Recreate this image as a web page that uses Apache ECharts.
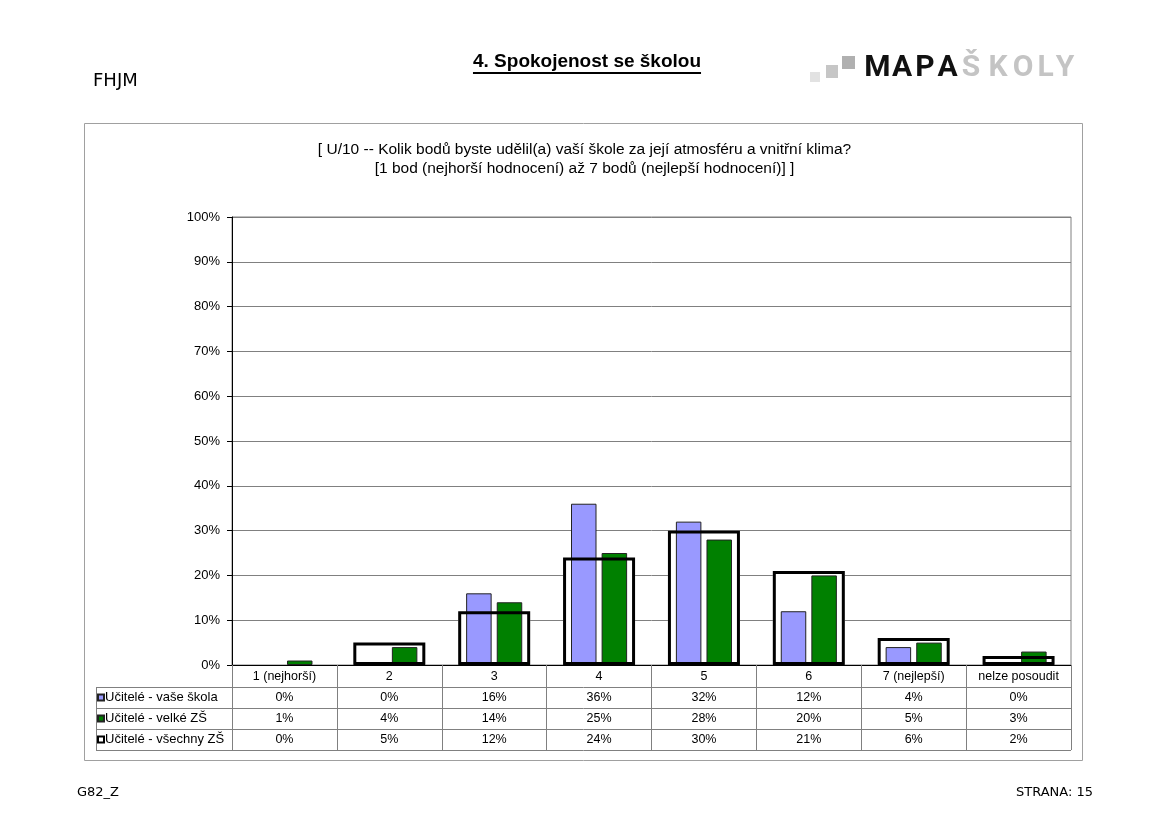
<!DOCTYPE html>
<html>
<head>
<meta charset="utf-8">
<script src="https://cdn.jsdelivr.net/npm/echarts@6/dist/echarts.min.js"></script>
<style>
html,body{margin:0;padding:0;background:#fff;}
#chart{width:1169px;height:827px;}
</style>
</head>
<body>
<div id="chart"></div>
<script>
// ---- data ----
const categories = ['1 (nejhorší)', '2', '3', '4', '5', '6', '7 (nejlepší)', 'nelze posoudit'];
const vaseSkola = [0, 0, 16, 36, 32, 12, 4, 0];
const velkeZS = [1, 4, 14, 25, 28, 20, 5, 3];
const vsechnyZS = [0, 5, 12, 24, 30, 21, 6, 2];
const seriesNames = ['Učitelé - vaše škola', 'Učitelé - velké ZŠ', 'Učitelé - všechny ZŠ'];
const chartTitle = '[ U/10 -- Kolik bodů byste udělil(a) vaší škole za její atmosféru a vnitřní klima?\n[1 bod (nejhorší hodnocení) až 7 bodů (nejlepší hodnocení)] ]';
const pageTitle = '4. Spokojenost se školou';
const pageCode = 'FHJM';
const footerLeft = 'G82_Z';
const footerRight = 'STRANA: 15';
const logoA = 'MAPA';
const logoB = 'ŠKOLY';

// ---- layout ----
const W = 1169, H = 827;
const GL = 232, GR = 1071, GT = 217, GB = 665;
const rowH = [22, 21, 21, 21];
const tableLeft = 96;
const FONT = '"Liberation Sans", Arial, sans-serif';

const pct = v => v + '%';
const nz = arr => arr.map(v => (v === 0 ? null : v));

const chart = echarts.init(document.getElementById('chart'), null, {renderer: 'canvas'});

// table row boundaries
const rowY = [GB];
rowH.forEach((h, i) => rowY.push(rowY[i] + h));
const rowCenters = rowH.map((h, i) => rowY[i] + h / 2);

// measure page title width for underline
const ctx = document.createElement('canvas').getContext('2d');
ctx.font = 'bold 19px ' + FONT;
const ptW = ctx.measureText(pageTitle).width;
const ptCx = 587;

const graphics = [];
// chart frame
graphics.push({type: 'rect', shape: {x: 84.5, y: 123.5, width: 998, height: 637}, style: {fill: 'none', stroke: '#a0a0a0', lineWidth: 1}, z: -10});
// table horizontal lines (rows 2..4 extend into legend column)
for (let i = 1; i < rowY.length; i++) {
  graphics.push({type: 'line', shape: {x1: tableLeft, y1: rowY[i] + 0.5, x2: GR, y2: rowY[i] + 0.5}, style: {stroke: '#808080', lineWidth: 1}});
}
graphics.push({type: 'line', shape: {x1: tableLeft + 0.5, y1: rowY[1], x2: tableLeft + 0.5, y2: rowY[rowY.length - 1] + 0.5}, style: {stroke: '#808080', lineWidth: 1}});
// page texts
graphics.push({type: 'text', left: 93, top: 72, style: {text: pageCode, font: '18px "DejaVu Sans", sans-serif', fill: '#000'}});
graphics.push({type: 'text', x: ptCx, y: 62, style: {text: pageTitle, font: 'bold 19px ' + FONT, fill: '#000', align: 'center', verticalAlign: 'middle'}});
graphics.push({type: 'line', shape: {x1: ptCx - ptW / 2, y1: 73, x2: ptCx + ptW / 2, y2: 73}, style: {stroke: '#000', lineWidth: 2}});
graphics.push({type: 'text', left: 77, top: 786, style: {text: footerLeft, font: '13px "DejaVu Sans", sans-serif', fill: '#000'}});
graphics.push({type: 'text', right: W - 1093, top: 786, style: {text: footerRight, font: '13px "DejaVu Sans", sans-serif', fill: '#000'}});
// logo squares
graphics.push({type: 'rect', shape: {x: 810, y: 72, width: 10, height: 10}, style: {fill: '#e2e2e2'}});
graphics.push({type: 'rect', shape: {x: 826, y: 65, width: 12, height: 13}, style: {fill: '#c6c6c6'}});
graphics.push({type: 'rect', shape: {x: 842, y: 56, width: 13, height: 13}, style: {fill: '#b0b0b0'}});
// logo letters
const logoCenters = [877.5, 902, 925, 947.5, 971, 998, 1023, 1045.5, 1065];
const logoText = (logoA + logoB).split('');
logoText.forEach((ch, i) => {
  graphics.push({type: 'text', x: logoCenters[i], y: 68, style: {
    text: ch, font: 'bold 30px Roboto, "DejaVu Sans", sans-serif',
    fill: i < logoA.length ? '#111' : '#c4c4c4', align: 'center', verticalAlign: 'middle'}});
});

const tableLabel = {fontSize: 12.5, color: '#000', fontFamily: FONT, margin: 5, interval: 0};
const rowAxis = (arr, off) => ({
  type: 'category', gridIndex: 0, position: 'bottom', offset: off,
  data: arr.map(pct), axisLine: {show: false}, axisTick: {show: false},
  axisLabel: tableLabel, splitLine: {show: false}
});

const option = {
  backgroundColor: '#fff',
  animation: false,
  title: {
    text: chartTitle, left: 'center', top: 140, padding: 0,
    textStyle: {fontSize: 15.5, fontWeight: 'normal', fontFamily: FONT, color: '#000', lineHeight: 19}
  },
  legend: {
    orient: 'vertical', left: 97, top: rowCenters[1] - 7, padding: 0,
    itemWidth: 6, itemHeight: 6, itemGap: 7, icon: 'rect', selectedMode: false,
    textStyle: {fontSize: 13, fontFamily: FONT, color: '#000', lineHeight: 14, padding: [0, 0, 0, -4]},
    data: [
      {name: seriesNames[0]},
      {name: seriesNames[1]},
      {name: seriesNames[2], itemStyle: {color: '#fff', borderColor: '#000', borderWidth: 2}}
    ]
  },
  grid: {left: GL, top: GT, width: GR - GL, height: GB - GT, show: true, borderColor: '#808080', borderWidth: 1, backgroundColor: '#fff'},
  xAxis: [
    {type: 'category', data: categories, position: 'bottom',
     axisLine: {show: true, lineStyle: {color: '#000', width: 1}},
     axisTick: {show: true, length: rowY[rowY.length - 1] - GB, lineStyle: {color: '#808080'}},
     axisLabel: tableLabel, splitLine: {show: false}},
    {type: 'category', data: categories, show: false},
    rowAxis(vaseSkola, rowCenters[1] - rowCenters[0]),
    rowAxis(velkeZS, rowCenters[2] - rowCenters[0]),
    rowAxis(vsechnyZS, rowCenters[3] - rowCenters[0])
  ],
  yAxis: {
    type: 'value', min: 0, max: 100, interval: 10,
    axisLine: {show: true, lineStyle: {color: '#000'}},
    axisTick: {show: true, length: 5, lineStyle: {color: '#000'}},
    axisLabel: {formatter: '{value}%', fontSize: 13, fontFamily: FONT, color: '#000', margin: 12},
    splitLine: {show: true, lineStyle: {color: '#808080', width: 1}}
  },
  series: [
    {name: '_bg', type: 'bar', xAxisIndex: 1, data: nz(vsechnyZS), barWidth: 72, barGap: '-100%',
     itemStyle: {color: '#fff'}, z: 1, silent: true},
    {name: seriesNames[0], type: 'bar', xAxisIndex: 0, data: nz(vaseSkola), barWidth: 25.5, barGap: '20%',
     itemStyle: {color: '#9999ff', borderColor: '#222', borderWidth: 1}, z: 2, silent: true},
    {name: seriesNames[1], type: 'bar', xAxisIndex: 0, data: nz(velkeZS), barWidth: 25.5, barGap: '20%',
     itemStyle: {color: '#008000', borderColor: '#222', borderWidth: 1}, z: 2, silent: true},
    {name: seriesNames[2], type: 'bar', xAxisIndex: 1, data: nz(vsechnyZS), barWidth: 72, barGap: '-100%',
     itemStyle: {color: 'rgba(0,0,0,0)', borderColor: '#000', borderWidth: 3}, z: 3, silent: true}
  ],
  graphic: graphics
};
chart.setOption(option);
</script>
</body>
</html>
